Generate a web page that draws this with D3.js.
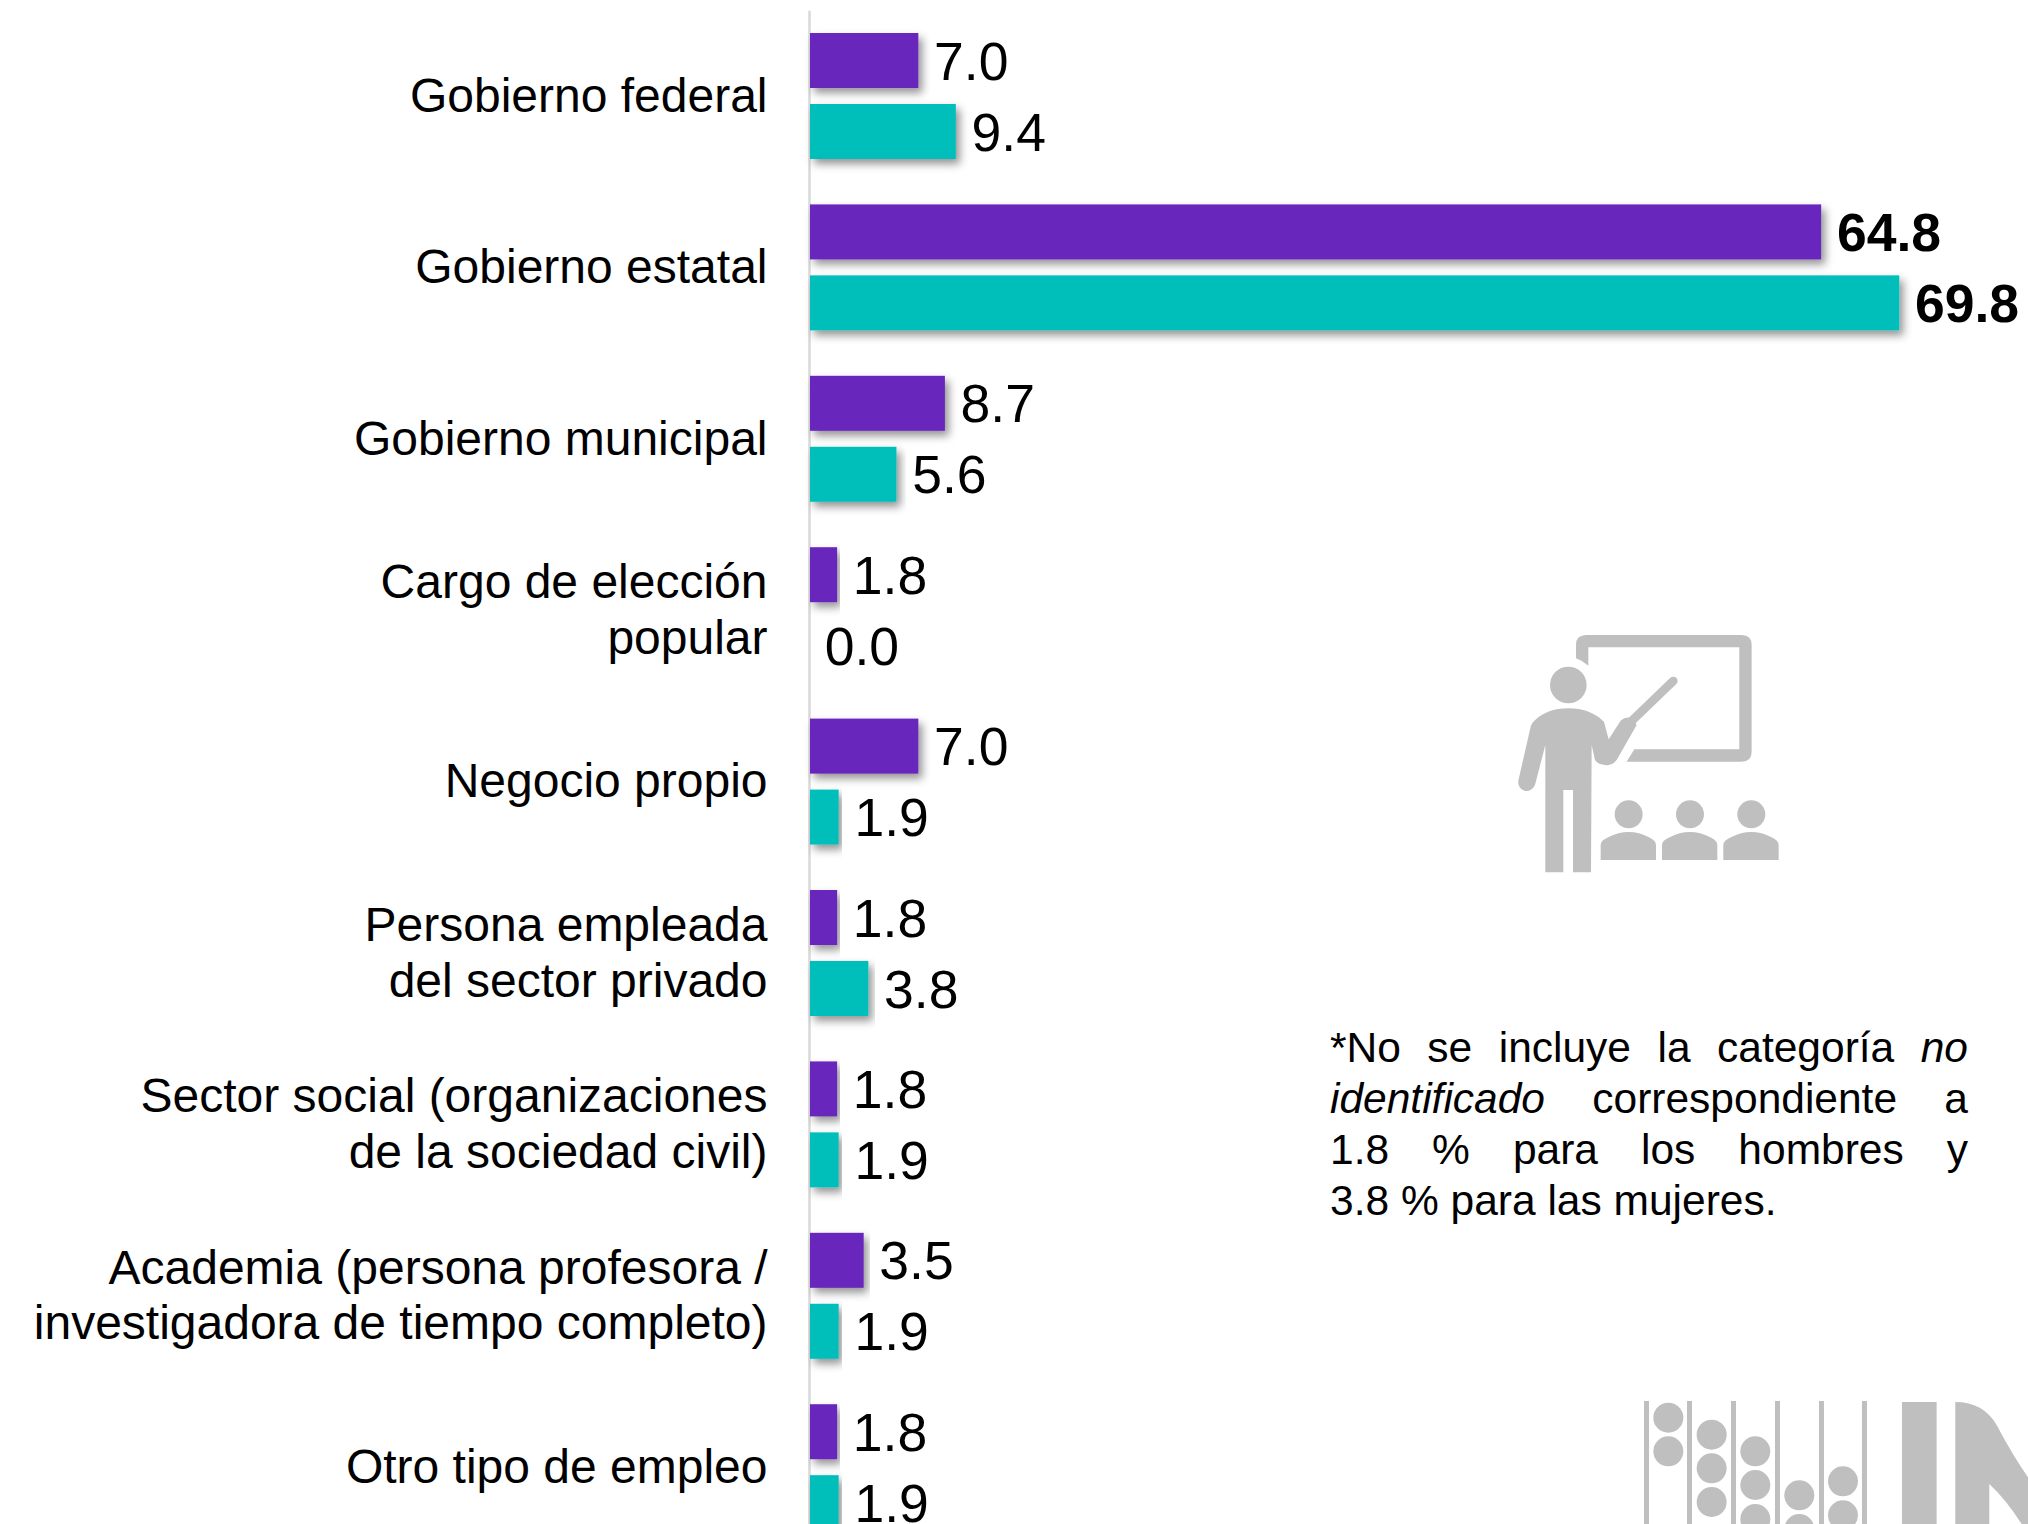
<!DOCTYPE html>
<html><head><meta charset="utf-8">
<script src="https://cdn.jsdelivr.net/npm/d3@7"></script>
<style>html,body{margin:0;padding:0;background:#fff;overflow:hidden}svg{display:block}text{font-family:"Liberation Sans",Arial,sans-serif;fill:#000}</style>
</head><body><svg id="c" width="2028" height="1524"></svg>
<script>
const categories = ["Gobierno federal","Gobierno estatal","Gobierno municipal","Cargo de elección popular","Negocio propio","Persona empleada del sector privado","Sector social (organizaciones de la sociedad civil)","Academia (persona profesora / investigadora de tiempo completo)","Otro tipo de empleo"];
const categoryLines = [["Gobierno federal"],["Gobierno estatal"],["Gobierno municipal"],["Cargo de elección","popular"],["Negocio propio"],["Persona empleada","del sector privado"],["Sector social (organizaciones","de la sociedad civil)"],["Academia (persona profesora /","investigadora de tiempo completo)"],["Otro tipo de empleo"]];
const seriesNames = ["Hombres","Mujeres"];
const hombres = [7.0,64.8,8.7,1.8,7.0,1.8,1.8,3.5,1.8];
const mujeres = [9.4,69.8,5.6,0.0,1.9,3.8,1.9,1.9,1.9];
const boldCategories = ["Gobierno estatal"];
const seriesColors = ["#6726BC","#05BFBB"];
const noteLines = [
 {words:[["*No"],["se"],["incluye"],["la"],["categoría"],["no","i"]],justify:true},
 {words:[["identificado","i"],["correspondiente"],["a"]],justify:true},
 {words:[["1.8"],["%"],["para"],["los"],["hombres"],["y"]],justify:true},
 {words:[["3.8"],["%"],["para"],["las"],["mujeres."]],justify:false}
];

const svg = d3.select("#c");
const defs = svg.append("defs");
const f = defs.append("filter").attr("id","sh").attr("x","-5%").attr("y","-25%").attr("width","115%").attr("height","160%");
f.append("feDropShadow").attr("dx",4).attr("dy",5).attr("stdDeviation",4).attr("flood-color","#000").attr("flood-opacity",0.42);

const x = d3.scaleLinear().domain([0,70]).range([809,1902.4]);
const y = d3.scaleBand().domain(categories).range([10.3,1552.9]).paddingInner(0.265).paddingOuter(0.1325);
const sub = d3.scaleBand().domain(seriesNames).range([0,y.bandwidth()]).paddingInner(0.225);
const rows = categories.map((c,i)=>({c,i,vals:[hombres[i],mujeres[i]]}));

const gAxis = svg.append("g").attr("transform",`translate(${x(0)},0)`)
  .call(d3.axisLeft(y).tickSize(0).tickPadding(42).tickSizeOuter(0));
gAxis.select(".domain").attr("stroke","#D9D9D9").attr("stroke-width",2.5);
gAxis.selectAll(".tick text").each(function(d){
  const t=d3.select(this).text(null).attr("font-size",48).attr("text-anchor","end").attr("font-family",null).attr("dy",null).attr("fill","#000");
  const lines=categoryLines[categories.indexOf(d)];
  lines.forEach((l,k)=>t.append("tspan").attr("x",-41.5).attr("y",(k-(lines.length-1)/2)*56+15.7).text(l));
});
gAxis.attr("font-family",null).attr("font-size",null);

const g = svg.selectAll("g.row").data(rows).join("g").attr("class","row").attr("transform",d=>`translate(0,${y(d.c)})`);
seriesNames.forEach((s,si)=>{
  g.filter(d=>d.vals[si]>0).append("rect")
   .attr("x",x(0)+1).attr("y",sub(s)).attr("width",d=>x(d.vals[si])-x(0)-1).attr("height",sub.bandwidth())
   .attr("fill",seriesColors[si]).attr("filter","url(#sh)");
  g.append("text").attr("x",d=>x(d.vals[si])+15.7).attr("y",sub(s)+sub.bandwidth()/2).attr("dy","0.358em")
   .attr("font-size",53.5).attr("font-weight",d=>boldCategories.includes(d.c)?"bold":"normal")
   .text(d=>d3.format(".1f")(d.vals[si]));
});

// footnote, justified word by word
const noteX=1330,noteR=1968,noteY=1062,noteLH=51,noteSize=42.5;
const note=svg.append("g").attr("font-size",noteSize);
noteLines.forEach((ln,i)=>{
  const ws=ln.words.map(w=>note.append("text").attr("y",noteY+i*noteLH).attr("font-style",w[1]?"italic":null).text(w[0]));
  const lens=ws.map(t=>t.node().getComputedTextLength());
  const gap=ln.justify?(noteR-noteX-d3.sum(lens))/(ws.length-1):noteSize*0.278;
  let cx=noteX; ws.forEach((t,k)=>{t.attr("x",cx);cx+=lens[k]+gap;});
});

// presenter icon
const icon=svg.append("g").attr("transform","translate(1480,610) scale(0.3333)").attr("fill","#BFBFBF");
icon.append("path").attr("d","M288,145 L288,105 Q288,75 318,75 L785,75 Q815,75 815,105 L815,425 Q815,455 785,455 L440,455 L463,418 L778,418 L778,112 L325,112 L325,167 Q308,152 288,145 Z");
icon.append("circle").attr("cx",265).attr("cy",225).attr("r",55);
icon.append("path").attr("d","M160,335 Q200,295 265,295 Q330,295 372,335 L386,388 L422,332 Q440,315 460,328 L470,345 L410,450 Q395,470 375,465 Q350,462 345,450 L335,405 L333,787 L279,787 L279,540 L250,540 L250,787 L196,787 L196,405 L165,525 Q155,545 135,543 Q112,535 115,512 L152,350 Q155,340 160,335 Z");
icon.append("line").attr("x1",450).attr("y1",338).attr("x2",580).attr("y2",213).attr("stroke","#BFBFBF").attr("stroke-width",26).attr("stroke-linecap","round");
[446,630,814].forEach(cx=>{
  icon.append("circle").attr("cx",cx).attr("cy",613).attr("r",42);
  icon.append("path").attr("transform",`translate(${cx-446},0)`).attr("d","M362,750 L362,705 Q362,692 385,682 Q415,666 446,666 Q477,666 507,682 Q528,692 528,705 L528,750 Z");
});

// logo, cropped by the page edge
const logo=svg.append("g").attr("transform","translate(1600,1370) scale(0.3333)").attr("fill","#BFBFBF");
[132,261,393,525,657,786].forEach(bx=>logo.append("rect").attr("x",bx).attr("y",93).attr("width",15).attr("height",400));
[[205,143],[205,244],[335,194],[335,295],[335,396],[466,244],[466,345],[466,447],[598,376],[598,477],[729,334],[729,436]]
 .forEach(p=>logo.append("circle").attr("cx",p[0]).attr("cy",p[1]).attr("r",45));
logo.append("rect").attr("x",906).attr("y",96).attr("width",104).attr("height",400);
logo.append("path").attr("d","M1066,96 Q1150,96 1190,165 Q1240,260 1290,330 L1290,500 L1066,500 Z M1168,342 Q1220,390 1270,470 L1168,470 Z").attr("fill-rule","evenodd");
</script></body></html>
